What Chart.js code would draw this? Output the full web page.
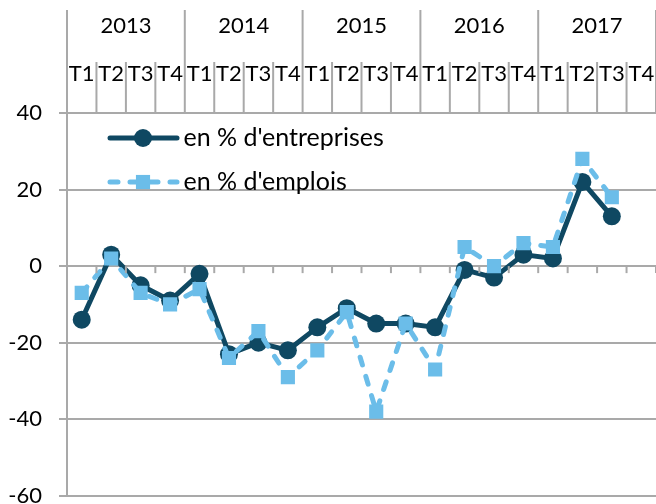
<!DOCTYPE html>
<html><head><meta charset="utf-8">
<script src="https://cdn.jsdelivr.net/npm/chart.js@4.4.0/dist/chart.umd.min.js"></script>
<style>
html,body{margin:0;padding:0;background:#fff;overflow:hidden;}
#wrap{position:relative;width:666px;height:526px;}
</style></head><body>
<div id="wrap"><canvas id="c"></canvas></div>
<script>
const years = ['2013', '2014', '2015', '2016', '2017'];
const quarters = ['T1','T2','T3','T4','T1','T2','T3','T4','T1','T2','T3','T4','T1','T2','T3','T4','T1','T2','T3','T4'];
const entreprises = [-14, 3, -5, -9, -2, -23, -20, -22, -16, -11, -15, -15, -16, -1, -3, 3, 2, 22, 13, null];
const emplois = [-7, 2, -7, -10, -6, -24, -17, -29, -22, -12, -38, -15, -27, 5, 0, 6, 5, 28, 18, null];
const seriesNames = ["en % d'entreprises", "en % d'emplois"];
const yMin = -60, yMax = 40, yStep = 20;

const DARK = '#0f4862';
const LIGHT = '#6bbde9';
const GRID = '#a9a9a9';
const FONT = 'Lato';
const LEGEND_FS = 25;

Chart.defaults.color = '#000';
Chart.defaults.font.family = FONT;

const headerPlugin = {
  id: 'header',
  afterLayout(chart) {
    const ca = chart.chartArea, lg = chart.legend;
    if (lg) {
      const w = lg.width, h = lg.height;
      lg.left = ca.left + 21; lg.top = ca.top - 6.5;
      lg.right = lg.left + w; lg.bottom = lg.top + h;
    }
  },
  afterDraw(chart) {
    const ctx = chart.ctx, ca = chart.chartArea, xs = chart.scales.x, ys = chart.scales.y;
    const n = quarters.length;
    const step = xs.getPixelForValue(1) - xs.getPixelForValue(0);
    const y0 = ys.getPixelForValue(0);
    ctx.save();
    ctx.strokeStyle = GRID; ctx.lineWidth = 2;
    for (let i = 0; i <= n; i++) {
      const x = xs.getPixelForValue(0) - step / 2 + i * step;
      const top = (i % 4 === 0) ? 10 : 62;
      ctx.beginPath(); ctx.moveTo(x, top); ctx.lineTo(x, ca.top); ctx.stroke();
      ctx.beginPath(); ctx.moveTo(x, y0); ctx.lineTo(x, y0 + 7); ctx.stroke();
    }
    ctx.restore();
    // legend samples
    const lg = chart.legend;
    if (lg && lg.legendItems) {
      const pad = lg.options.labels.padding, fs = lg.options.labels.font.size;
      lg.legendItems.forEach((it, k) => {
        const ds = chart.data.datasets[it.datasetIndex];
        const x0 = lg.left + pad, yc = lg.top + pad + fs / 2 + k * (fs + pad);
        ctx.save();
        ctx.strokeStyle = ds.borderColor; ctx.lineWidth = ds.borderWidth;
        ctx.lineCap = ds.borderCapStyle || 'butt';
        ctx.setLineDash(ds.borderDash || []);
        ctx.beginPath(); ctx.moveTo(x0 + 3, yc); ctx.lineTo(x0 + 70, yc); ctx.stroke();
        ctx.setLineDash([]);
        ctx.fillStyle = ds.pointBackgroundColor;
        const cx = x0 + 36;
        if (ds.pointStyle === 'rect') {
          const s = ds.pointRadius * Math.SQRT1_2;
          ctx.fillRect(cx - s, yc - s, 2 * s, 2 * s);
        } else {
          ctx.beginPath(); ctx.arc(cx, yc, ds.pointRadius, 0, Math.PI * 2); ctx.fill();
        }
        ctx.restore();
      });
    }
  }
};

function noSidePad(scale) { scale.paddingLeft = 0; scale.paddingRight = 0; }

new Chart(document.getElementById('c'), {
  type: 'line',
  data: {
    labels: quarters,
    datasets: [
      {
        label: seriesNames[0], data: entreprises, order: 1,
        borderColor: DARK, backgroundColor: DARK, borderWidth: 5,
        pointStyle: 'circle', pointRadius: 9, pointBackgroundColor: DARK, pointBorderWidth: 0,
        borderCapStyle: 'round', borderJoinStyle: 'round', tension: 0, spanGaps: false
      },
      {
        label: seriesNames[1], data: emplois, order: 0,
        borderColor: LIGHT, backgroundColor: LIGHT, borderWidth: 5, borderDash: [8, 12],
        pointStyle: 'rect', pointRadius: 10, pointBackgroundColor: LIGHT, pointBorderWidth: 0,
        borderCapStyle: 'round', borderJoinStyle: 'round', tension: 0, spanGaps: false
      }
    ]
  },
  options: {
    responsive: true, maintainAspectRatio: false, animation: false,
    layout: { padding: { left: 7, right: 0, top: 0, bottom: 0 } },
    plugins: {
      tooltip: { enabled: false },
      legend: {
        display: true, position: 'chartArea', align: 'start', fullSize: false,
        labels: {
          font: { family: FONT, size: LEGEND_FS }, color: '#000',
          boxWidth: 64, boxHeight: 0, padding: 19,
          sort: (a, b) => a.datasetIndex - b.datasetIndex,
          generateLabels(chart) {
            const items = Chart.defaults.plugins.legend.labels.generateLabels(chart);
            items.forEach(it => { it.lineWidth = 0; it.fillStyle = 'rgba(0,0,0,0)'; it.strokeStyle = 'rgba(0,0,0,0)'; });
            return items;
          }
        }
      }
    },
    scales: {
      x: {
        type: 'category', position: 'top', offset: true, weight: 0,
        grid: { display: true, drawOnChartArea: false, drawTicks: true, tickLength: 26, color: 'rgba(0,0,0,0)', offset: true },
        border: { display: false },
        ticks: { font: { family: FONT, size: 22 }, color: '#000', padding: 0, maxRotation: 0, autoSkip: false },
        afterFit(scale) { scale.height = 52; noSidePad(scale); }
      },
      x2: {
        type: 'category', axis: 'x', position: 'top', offset: true, weight: 1, labels: years,
        grid: { display: true, drawOnChartArea: false, drawTicks: true, tickLength: 22, color: 'rgba(0,0,0,0)', offset: true },
        border: { display: false },
        ticks: { font: { family: FONT, size: 22 }, color: '#000', padding: 0, maxRotation: 0, autoSkip: false },
        afterFit(scale) { scale.height = 61; noSidePad(scale); }
      },
      y: {
        min: yMin, max: yMax,
        ticks: { stepSize: yStep, font: { family: FONT, size: 22 }, color: '#000', padding: 17 },
        grid: { color: GRID, lineWidth: 2, tickLength: 8, drawTicks: true },
        border: { display: true, color: GRID, width: 2 },
        afterFit(scale) { scale.width = 60; }
      }
    }
  },
  plugins: [headerPlugin]
});
</script>
</body></html>
